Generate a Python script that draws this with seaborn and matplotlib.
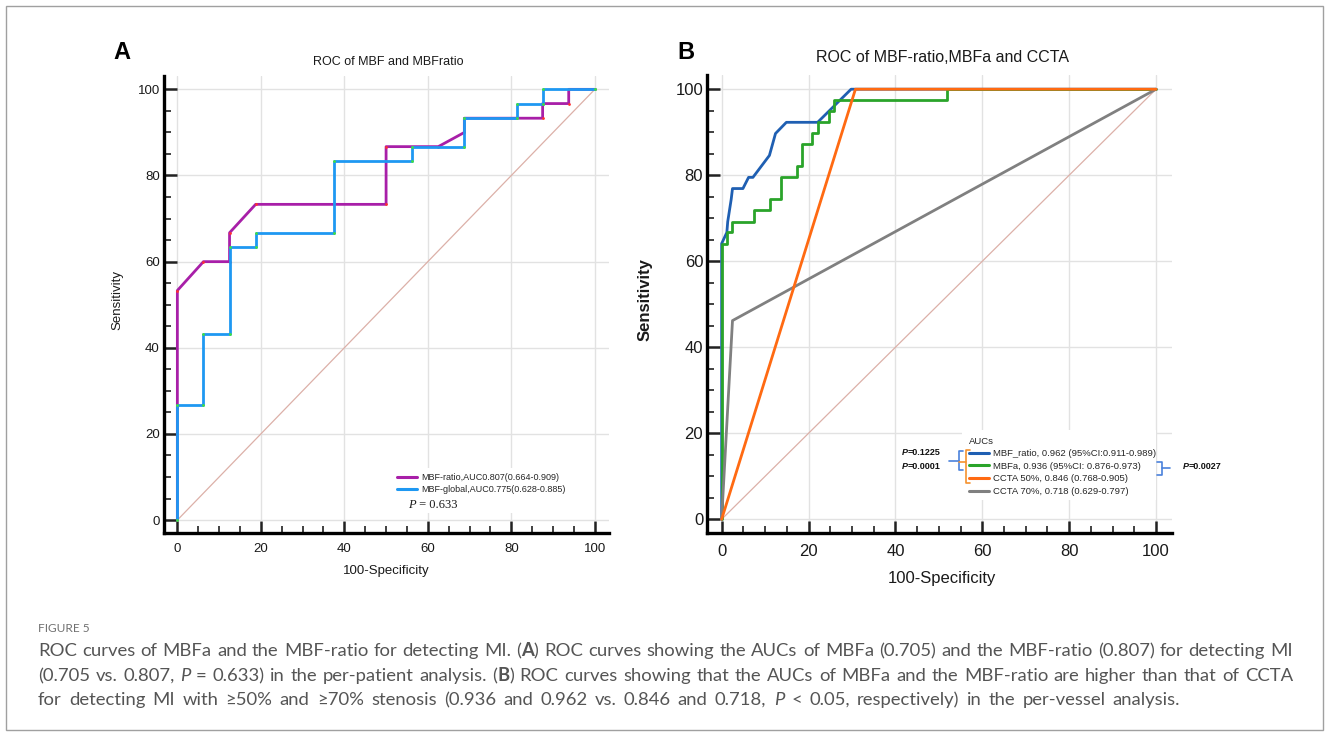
import matplotlib
matplotlib.use("Agg")
import matplotlib.pyplot as plt
import seaborn as sns
from matplotlib.ticker import MultipleLocator
from matplotlib.lines import Line2D
from matplotlib.patches import Rectangle

# ---------------- data ----------------
# Panel A (per-patient)
a_ratio_x = [0, 0, 0, 6.25, 12.5, 12.5, 18.75, 50, 50, 62.5, 68.75, 68.75, 87.5, 87.5, 93.75, 93.75, 100]
a_ratio_y = [0, 26.7, 53.3, 60, 60, 66.7, 73.3, 73.3, 86.7, 86.7, 90, 93.3, 93.3, 96.7, 96.7, 100, 100]
a_global_x = [0, 0, 6.25, 6.25, 12.5, 12.5, 18.75, 18.75, 37.5, 37.5, 56.25, 56.25, 68.75, 68.75,
              81.25, 81.25, 87.5, 87.5, 100]
a_global_y = [0, 26.7, 26.7, 43.3, 43.3, 63.3, 63.3, 66.7, 66.7, 83.3, 83.3, 86.7, 86.7, 93.3,
              93.3, 96.7, 96.7, 100, 100]

# Panel B (per-vessel)
b_ratio_x = [0, 0, 1.2, 1.4, 2.2, 2.5, 4.9, 6.2, 7.2, 11.0, 12.4, 14.9, 22.1, 29.8, 100]
b_ratio_y = [0, 64.1, 66.7, 69.2, 74.4, 76.9, 76.9, 79.5, 79.5, 84.6, 89.7, 92.3, 92.3, 100, 100]
b_mbfa_x = [0, 0, 1.2, 1.2, 2.5, 2.5, 7.4, 7.4, 11.1, 11.1, 13.6, 13.6, 17.3, 17.3, 18.5, 18.5,
            20.9, 20.9, 22.2, 22.2, 24.7, 24.7, 25.9, 25.9, 51.9, 51.9, 100]
b_mbfa_y = [0, 64.1, 64.1, 66.7, 66.7, 69.2, 69.2, 71.8, 71.8, 74.4, 74.4, 79.5, 79.5, 82.1, 82.1,
            87.2, 87.2, 89.7, 89.7, 92.3, 92.3, 94.9, 94.9, 97.4, 97.4, 100, 100]
b_c50_x = [0, 30.8, 100]
b_c50_y = [0, 100, 100]
b_c70_x = [0, 2.5, 100]
b_c70_y = [0, 46.2, 100]

ref_x = [0, 100]
ref_y = [0, 100]
major_ticks = [0, 20, 40, 60, 80, 100]

a_title = "ROC of MBF and MBFratio"
b_title = "ROC of MBF-ratio,MBFa and CCTA"
a_labels = ["MBF-ratio,AUC0.807(0.664-0.909)", "MBF-global,AUC0.775(0.628-0.885)"]
b_labels = ["MBF_ratio, 0.962 (95%CI:0.911-0.989)", "MBFa, 0.936 (95%CI: 0.876-0.973)",
            "CCTA 50%, 0.846 (0.768-0.905)", "CCTA 70%, 0.718 (0.629-0.797)"]
a_pval = "0.633"
b_pvals = ["0.1225", "0.0001", "0.0027"]

# ---------------- style ----------------
C_MAG = "#a81fa8"
C_SKY = "#1e98f2"
C_BLUE = "#1f5fb2"
C_GREEN = "#2aa42a"
C_ORANGE = "#ff6a12"
C_GRAY = "#808080"
C_REF = "#dcb0a8"

W, H = 1328, 735
sns.set_theme(style="ticks")
plt.rcParams['font.family'] = ['Liberation Sans', 'DejaVu Sans']

fig = plt.figure(figsize=(W / 100, H / 100), dpi=100)
fig.patch.set_facecolor("white")

A_BOX = (164, 76, 609, 533)
B_BOX = (707.3, 75, 1171.7, 533.3)


def add_axes_px(box):
    l, t, r, b = box
    return fig.add_axes([l / W, 1 - b / H, (r - l) / W, (b - t) / H])


def px2ax(box, x, y):
    l, t, r, b = box
    return ((x - l) / (r - l), (b - y) / (b - t))


axA = add_axes_px(A_BOX)
axB = add_axes_px(B_BOX)


def style(ax, xlim, ylim, fs):
    ax.set_xlim(*xlim)
    ax.set_ylim(*ylim)
    ax.set_xticks(major_ticks)
    ax.set_yticks(major_ticks)
    ax.xaxis.set_minor_locator(MultipleLocator(5))
    ax.yaxis.set_minor_locator(MultipleLocator(5))
    ax.tick_params(which="major", direction="in", length=9, width=1.8, color="#222222",
                   labelsize=fs, labelcolor="#1a1a1a", pad=3, bottom=True, left=True)
    ax.tick_params(axis="x", which="major", pad=7.5)
    ax.tick_params(which="minor", direction="in", length=5, width=1.3, color="#333333",
                   bottom=True, left=True)
    ax.grid(True, which="major", color="#e2e2e2", lw=1.0)
    ax.set_axisbelow(True)
    for s in ["top", "right"]:
        ax.spines[s].set_visible(False)
    for s in ["left", "bottom"]:
        ax.spines[s].set_linewidth(2.4)
        ax.spines[s].set_color("black")
    ax.set_facecolor("white")


style(axA, (-3.2, 103.4), (-3.0, 103.1), 9.5)
style(axB, (-3.3, 103.6), (-3.25, 103.3), 12)

# ---------------- panel A ----------------
sns.lineplot(x=ref_x, y=ref_y, color=C_REF, lw=0.9, ax=axA, zorder=1.6)
sns.lineplot(x=a_ratio_x, y=a_ratio_y, sort=False, estimator=None, color=C_MAG, lw=2.0, ax=axA, zorder=3)
sns.lineplot(x=a_global_x, y=a_global_y, sort=False, estimator=None, color=C_SKY, lw=2.0, ax=axA, zorder=3.2)
sns.scatterplot(x=a_ratio_x, y=a_ratio_y, color="#ff3030", s=4, linewidth=0, ax=axA, zorder=3.1)
sns.scatterplot(x=a_global_x, y=a_global_y, color="#40e040", s=4, linewidth=0, ax=axA, zorder=3.3)

axA.set_xlabel("100-Specificity", fontsize=9.5, color="#1a1a1a")
axA.set_ylabel("Sensitivity", fontsize=9.5, color="#1a1a1a")
axA.xaxis.set_label_coords(*px2ax(A_BOX, 386, 571))
axA.yaxis.set_label_coords(*px2ax(A_BOX, 117, 300))
axA.xaxis.label.set_va("center")
axA.yaxis.label.set_va("center")
axA.set_title(a_title, fontsize=9, color="#1a1a1a", va="center", pad=0,
              x=px2ax(A_BOX, 388, 62)[0], y=px2ax(A_BOX, 388, 62)[1])

# legend A background (covers grid)
x0, y0 = px2ax(A_BOX, 394, 513)
x1, y1 = px2ax(A_BOX, 572, 468)
axA.add_patch(Rectangle((x0, y0), x1 - x0, y1 - y0, transform=axA.transAxes,
                        facecolor="white", edgecolor="none", zorder=1))
hA = [Line2D([], [], color=C_MAG, lw=2.2), Line2D([], [], color=C_SKY, lw=2.2)]
axA.legend(hA, a_labels, loc="upper left", bbox_to_anchor=px2ax(A_BOX, 397, 473.5),
           frameon=False, fontsize=6.5, handlelength=2.2, handletextpad=0.45,
           labelspacing=0.3, borderpad=0, borderaxespad=0)

# ---------------- panel B ----------------
sns.lineplot(x=ref_x, y=ref_y, color=C_REF, lw=0.9, ax=axB, zorder=1.6)
sns.lineplot(x=b_ratio_x, y=b_ratio_y, sort=False, estimator=None, color=C_BLUE, lw=2.0, ax=axB, zorder=3)
sns.lineplot(x=b_mbfa_x, y=b_mbfa_y, sort=False, estimator=None, color=C_GREEN, lw=2.0, ax=axB, zorder=3.1)
sns.lineplot(x=b_c70_x, y=b_c70_y, sort=False, estimator=None, color=C_GRAY, lw=2.0, ax=axB, zorder=3.2)
sns.lineplot(x=b_c50_x, y=b_c50_y, sort=False, estimator=None, color=C_ORANGE, lw=2.0, ax=axB, zorder=3.3)

axB.set_xlabel("100-Specificity", fontsize=12, color="#1a1a1a")
axB.set_ylabel("Sensitivity", fontsize=12, color="#1a1a1a", fontweight="bold")
axB.xaxis.set_label_coords(*px2ax(B_BOX, 942, 578))
axB.yaxis.set_label_coords(*px2ax(B_BOX, 645.5, 300))
axB.xaxis.label.set_va("center")
axB.yaxis.label.set_va("center")
axB.set_title(b_title, fontsize=11.5, color="#1a1a1a", va="center", pad=0,
              x=px2ax(B_BOX, 942, 58)[0], y=px2ax(B_BOX, 942, 58)[1])

x0, y0 = px2ax(B_BOX, 962, 500)
x1, y1 = px2ax(B_BOX, 1156, 430)
axB.add_patch(Rectangle((x0, y0), x1 - x0, y1 - y0, transform=axB.transAxes,
                        facecolor="white", edgecolor="none", zorder=1))
hB = [Line2D([], [], color=c, lw=2.2) for c in (C_BLUE, C_GREEN, C_ORANGE, C_GRAY)]
axB.legend(hB, b_labels, title="AUCs", loc="upper left", bbox_to_anchor=px2ax(B_BOX, 969, 436.5),
           frameon=False, fontsize=6.8, title_fontsize=6.8, handlelength=2.1, handletextpad=0.45,
           labelspacing=0.38, borderpad=0, borderaxespad=0, alignment="left")

# ---------------- overlay (pixel coordinates) ----------------
ov = fig.add_axes([0, 0, 1, 1], zorder=10)
ov.set_xlim(0, W)
ov.set_ylim(H, 0)
ov.axis("off")
renderer = fig.canvas.get_renderer()


def rich(x, y, segs, **common):
    prev = None
    for txt, kw in segs:
        props = dict(common)
        props.update(kw)
        if prev is None:
            prev = ov.text(x, y, txt, va="baseline", ha="left", **props)
        else:
            prev = ov.annotate(txt, xy=(1, 0), xycoords=prev, va="bottom", ha="left",
                               annotation_clip=False, **props)
    return prev


def justified(y, segs, x_start, x_end, **common):
    """Place styled text so the line spans x_start..x_end (pixel units)."""
    words = [[]]
    for txt, kw in segs:
        parts = txt.split(" ")
        for i, p in enumerate(parts):
            if i > 0:
                words.append([])
            if p:
                words[-1].append((p, kw))
    words = [w for w in words if w]
    placed = []
    total = 0.0
    for w in words:
        arts = []
        for p, kw in w:
            props = dict(common)
            props.update(kw)
            t = ov.text(0, y, p, va="baseline", ha="left", **props)
            wd = t.get_window_extent(renderer).width
            arts.append((t, wd))
            total += wd
        placed.append(arts)
    gap = (x_end - x_start - total) / max(len(words) - 1, 1)
    x = x_start
    for arts in placed:
        for t, wd in arts:
            t.set_x(x)
            x += wd
        x += gap


# figure border
ov.add_patch(Rectangle((5.5, 5.5), 1317, 724, facecolor="none", edgecolor="#a0a0a0", lw=1.0))

# panel letters
ov.text(122, 52, "A", fontsize=17, fontweight="bold", ha="center", va="center", color="black")
ov.text(686, 52, "B", fontsize=17, fontweight="bold", ha="center", va="center", color="black")

# P value panel A
rich(408, 507.5, [("P", {"style": "italic"}), (" = " + a_pval, {})],
     family=["Liberation Serif"], fontsize=9, color="#1a1a1a")

# P values panel B
pv = dict(fontsize=6.5, fontweight="bold", color="#111111")
rich(902, 455, [("P", {"style": "italic"}), ("=" + b_pvals[0], {})], **pv)
rich(902, 469, [("P", {"style": "italic"}), ("=" + b_pvals[1], {})], **pv)
rich(1183, 469, [("P", {"style": "italic"}), ("=" + b_pvals[2], {})], **pv)

# brackets
CB = "#4a82dc"
CO = "#f5922f"
ov.plot([962.5, 958.5, 958.5, 962.5], [451, 451, 470, 470], color=CB, lw=1.2)
ov.plot([949, 958.5], [460.5, 460.5], color=CB, lw=1.2)
ov.plot([970, 966, 966, 970], [449.5, 449.5, 483, 483], color=CO, lw=1.2)
ov.plot([958.5, 966], [462, 462], color=CO, lw=1.2)
ov.plot([1157, 1161.5, 1161.5, 1157], [461.5, 461.5, 474.5, 474.5], color=CB, lw=1.2)
ov.plot([1161.5, 1170], [468, 468], color=CB, lw=1.2)

# caption
CAP = "#555555"
capfont = dict(family=["Lato", "DejaVu Sans"], fontsize=13.3, color=CAP)
ov.text(38, 632, "FIGURE 5", family=["Lato", "DejaVu Sans"], fontsize=8.6, color="#707070",
        va="baseline", ha="left")
justified(656, [("ROC curves of MBFa and the MBF-ratio for detecting MI. (", {}),
                ("A", {"fontweight": "bold"}),
                (") ROC curves showing the AUCs of MBFa (0.705) and the MBF-ratio (0.807) for detecting MI", {})],
          38, 1293, **capfont)
justified(681, [("(0.705 vs. 0.807, ", {}), ("P", {"style": "italic"}),
                (" = 0.633) in the per-patient analysis. (", {}), ("B", {"fontweight": "bold"}),
                (") ROC curves showing that the AUCs of MBFa and the MBF-ratio are higher than that of CCTA", {})],
          38, 1293, **capfont)
justified(705, [("for detecting MI with ≥50% and ≥70% stenosis (0.936 and 0.962 vs. 0.846 and 0.718, ", {}),
                ("P", {"style": "italic"}), (" < 0.05, respectively) in the per-vessel analysis.", {})],
          38, 1180, **capfont)

fig.savefig("out.png", dpi=100, facecolor="white")
